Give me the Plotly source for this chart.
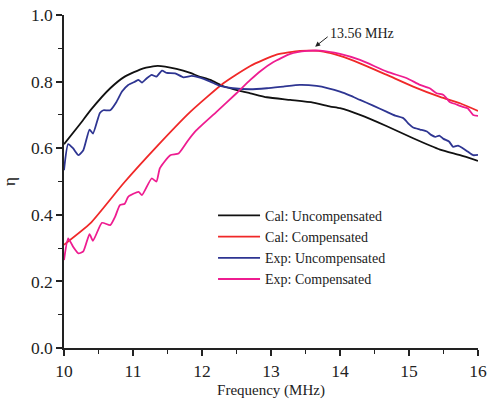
import plotly.graph_objects as go

# Cal: Uncompensated
cal_unc_f = [10.0, 10.23, 10.4, 10.67, 10.88, 11.15, 11.36, 11.63, 11.83, 11.95, 12.12, 12.31, 12.55,
             12.7, 12.94, 13.28, 13.61, 13.86, 14.0, 14.29, 14.68, 15.06, 15.45, 15.74, 16.0]
cal_unc_y = [0.612, 0.672, 0.718, 0.78, 0.815, 0.84, 0.847, 0.838, 0.826, 0.816, 0.805, 0.786, 0.772,
             0.765, 0.753, 0.745, 0.737, 0.725, 0.72, 0.70, 0.666, 0.63, 0.596, 0.579, 0.562]

# Cal: Compensated
cal_comp_f = [10.0, 10.38, 10.86, 11.34, 11.83, 12.31, 12.7, 13.08, 13.42, 13.6, 13.76, 14.0, 14.29,
              14.68, 15.06, 15.45, 15.74, 16.0]
cal_comp_y = [0.31, 0.374, 0.494, 0.604, 0.709, 0.795, 0.847, 0.881, 0.892, 0.893, 0.89, 0.877, 0.855,
              0.82, 0.785, 0.754, 0.735, 0.712]

# Exp: Uncompensated
exp_unc_f = [10.0, 10.06, 10.13, 10.21, 10.28, 10.37, 10.42, 10.52, 10.57, 10.67, 10.76, 10.84, 10.93,
             11.03, 11.08, 11.13, 11.2, 11.27, 11.34, 11.42, 11.49, 11.61, 11.73, 11.85, 11.97, 12.12,
             12.26, 12.45, 12.7, 12.94, 13.18, 13.42, 13.66, 13.83, 14.0, 14.15, 14.29, 14.48, 14.68,
             14.8, 14.92, 15.0, 15.06, 15.16, 15.26, 15.32, 15.38, 15.44, 15.5, 15.58, 15.64, 15.71,
             15.78, 15.85, 15.93, 16.0]
exp_unc_y = [0.534, 0.612, 0.60, 0.579, 0.594, 0.656, 0.644, 0.706, 0.714, 0.714, 0.739, 0.77, 0.79,
             0.80, 0.805, 0.797, 0.81, 0.82, 0.815, 0.833, 0.826, 0.825, 0.813, 0.817, 0.812, 0.80,
             0.787, 0.78, 0.777, 0.78, 0.785, 0.79, 0.787, 0.78, 0.77, 0.758, 0.745, 0.728, 0.709,
             0.698, 0.69, 0.672, 0.662, 0.656, 0.65, 0.64, 0.634, 0.638, 0.628, 0.62, 0.604, 0.608,
             0.60, 0.59, 0.579, 0.58]

# Exp: Compensated
exp_comp_f = [10.0, 10.06, 10.13, 10.21, 10.28, 10.37, 10.42, 10.55, 10.67, 10.74, 10.81, 10.88, 10.93,
              11.08, 11.13, 11.27, 11.34, 11.39, 11.54, 11.66, 11.8, 11.92, 12.21, 12.5, 12.7, 12.85,
              13.03, 13.28, 13.52, 13.71, 14.0, 14.29, 14.68, 14.97, 15.16, 15.3, 15.4, 15.5, 15.59,
              15.68, 15.77, 15.85, 15.93, 16.0]
exp_comp_y = [0.264, 0.329, 0.305, 0.284, 0.29, 0.342, 0.322, 0.376, 0.369, 0.394, 0.429, 0.433, 0.454,
              0.469, 0.459, 0.509, 0.50, 0.54, 0.579, 0.584, 0.624, 0.654, 0.709, 0.765, 0.805, 0.832,
              0.858, 0.883, 0.892, 0.893, 0.883, 0.865, 0.83, 0.81, 0.79, 0.78, 0.765, 0.76, 0.739,
              0.732, 0.725, 0.72, 0.70, 0.697]

names = ["Cal: Uncompensated", "Cal: Compensated", "Exp: Uncompensated", "Exp: Compensated"]
colors = ["#111111", "#f02828", "#2e3592", "#ee1c90"]

fig = go.Figure()
for fx, fy, nm, c in [(cal_unc_f, cal_unc_y, names[0], colors[0]),
                      (cal_comp_f, cal_comp_y, names[1], colors[1]),
                      (exp_unc_f, exp_unc_y, names[2], colors[2]),
                      (exp_comp_f, exp_comp_y, names[3], colors[3])]:
    fig.add_trace(go.Scatter(x=fx, y=fy, mode="lines", name=nm,
                             line=dict(color=c, width=1.8, shape="spline", smoothing=0.5)))

font_family = "Liberation Serif, Times New Roman, serif"
fig.update_layout(
    width=487, height=406,
    margin=dict(l=64, r=9, t=15, b=58, autoexpand=False),
    paper_bgcolor="white", plot_bgcolor="white",
    font=dict(family=font_family, color="#222222"),
    showlegend=True,
    legend=dict(x=0.36, y=0.445, xanchor="left", yanchor="top", itemwidth=42,
                bgcolor="rgba(0,0,0,0)", font=dict(size=14, family=font_family, color="#222222"),
                tracegroupgap=0),
    xaxis=dict(range=[10, 16], tickvals=[10, 11, 12, 13, 14, 15, 16], automargin=False,
               showgrid=False, zeroline=False, showline=True, linecolor="#222222", linewidth=1.5,
               ticks="outside", ticklen=6, tickwidth=1.5, tickcolor="#222222",
               minor=dict(tickvals=[10.5, 11.5, 12.5, 13.5, 14.5, 15.5], ticks="outside",
                          ticklen=4, tickwidth=1.2, tickcolor="#222222"),
               tickfont=dict(size=17.5, family=font_family),
               title=dict(text="Frequency (MHz)", font=dict(size=15, family=font_family), standoff=5)),
    yaxis=dict(range=[0, 1.0], tickvals=[0, 0.2, 0.4, 0.6, 0.8, 1.0], automargin=False,
               ticktext=["0.0", "0.2", "0.4", "0.6", "0.8", "1.0"],
               showgrid=False, zeroline=False, showline=True, linecolor="#222222", linewidth=1.5,
               ticks="outside", ticklen=6, tickwidth=1.5, tickcolor="#222222",
               minor=dict(tickvals=[0.1, 0.3, 0.5, 0.7, 0.9], ticks="outside",
                          ticklen=4, tickwidth=1.2, tickcolor="#222222"),
               tickfont=dict(size=17.5, family=font_family),
               title=dict(text="η", font=dict(size=17, family=font_family), standoff=16)),
)

fig.add_annotation(x=13.64, y=0.905, xref="x", yref="y", text="", showarrow=True,
                   ax=14, ay=-11, axref="pixel", ayref="pixel", arrowhead=2, arrowsize=1,
                   arrowwidth=1, arrowcolor="#222222", standoff=0)
fig.add_annotation(x=13.82, y=0.945, xref="x", yref="y", text="13.56 MHz", showarrow=False,
                   xanchor="left", yanchor="middle", font=dict(size=14, family=font_family, color="#222222"))

fig.write_html("out.html")
